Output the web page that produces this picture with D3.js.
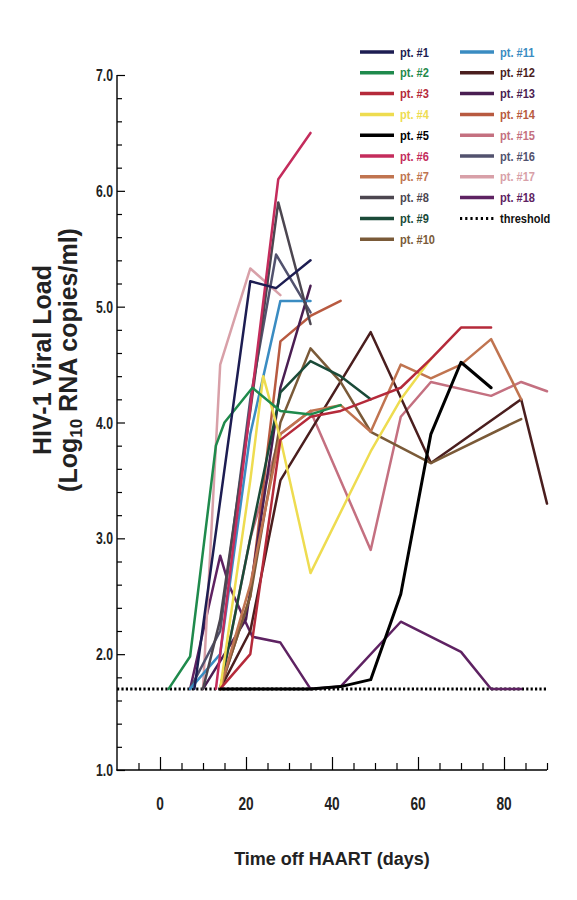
<!DOCTYPE html>
<html>
<head>
<meta charset="utf-8">
<script src="https://cdn.jsdelivr.net/npm/d3@7"></script>
<style>
  html, body { margin: 0; padding: 0; background: #fff; }
  svg { display: block; }
  text { font-family: "Liberation Sans", Arial, sans-serif; font-weight: bold; }
</style>
</head>
<body>
<svg id="chart" width="577" height="900"></svg>
<script>
// Patients, their line colours, and viral load (log10 copies/ml) by day off HAART
const patients = ["pt. #1","pt. #2","pt. #3","pt. #4","pt. #5","pt. #6","pt. #7","pt. #8","pt. #9",
  "pt. #10","pt. #11","pt. #12","pt. #13","pt. #14","pt. #15","pt. #16","pt. #17","pt. #18"];
const colors = ["#1d1d52","#1f8a4c","#b52a3a","#eedc50","#000000","#c42c5c","#c07450","#4c4650","#1a4a38",
  "#7a5a38","#3a8cc2","#4a1e1e","#4a1e52","#b85a40","#c47080","#52526e","#d8a0a8","#5e2262"];
const days = [
  [8,21,27,35],
  [2,7,13,15,21.5,28,35,42],
  [14,21,28,35,42,49,56,63,70,77],
  [14,21,24,28,35,49,56,63],
  [14,21,28,35,42,49,56,63,70,77],
  [13,27.5,35],
  [14,21,28,35,42,49,56,63,70,77,84],
  [10,14,21,27.5,35],
  [14,21,28,35,42,49],
  [14,21,28,35,42,49,63,84],
  [7,14,21,28,35],
  [14,21,28,49,63,84,90],
  [10,20,28,35],
  [14,21,28,35,42],
  [14,21,28,35,49,56,63,77,84,90],
  [7,14,21,27,35],
  [10,14,21,28],
  [7,14,16,20,21.5,28,35,42,56,70,77,84]
];
const loads = [
  [1.7,5.22,5.16,5.4],
  [1.7,1.98,3.8,4.0,4.3,4.1,4.07,4.15],
  [1.7,2.0,3.85,4.05,4.1,4.2,4.3,4.55,4.82,4.82],
  [1.7,3.5,4.4,3.86,2.7,3.75,4.2,4.55],
  [1.7,1.7,1.7,1.7,1.72,1.78,2.52,3.9,4.52,4.3],
  [1.7,6.1,6.5],
  [1.7,2.6,3.9,4.1,4.15,3.92,4.5,4.38,4.5,4.72,4.2],
  [1.7,2.3,4.1,5.9,4.85],
  [1.7,3.0,4.26,4.53,4.4,4.2],
  [1.7,2.5,4.0,4.64,4.35,3.92,3.65,4.03],
  [1.7,2.0,3.9,5.05,5.05],
  [1.7,2.2,3.5,4.78,3.65,4.2,3.3],
  [1.7,2.3,4.3,5.18],
  [1.7,2.5,4.7,4.92,5.05],
  [1.7,3.0,3.9,4.1,2.9,4.05,4.35,4.23,4.35,4.27],
  [1.7,2.2,4.2,5.45,4.95],
  [1.7,4.5,5.33,5.1],
  [1.7,2.85,2.6,2.27,2.15,2.1,1.7,1.72,2.28,2.02,1.7,1.7]
];
const threshold = 1.7;
const xTickLabels = [0, 20, 40, 60, 80];
const yTickLabels = [1, 2, 3, 4, 5, 6, 7];

const svg = d3.select("#chart");
svg.append("rect").attr("width", 577).attr("height", 900).attr("fill", "#fff");

const x = d3.scaleLinear().domain([-10, 90]).range([117, 547]);
const y = d3.scaleLinear().domain([1, 7]).range([770, 75]);

// Data lines
const line = d3.line().x(d => x(d[0])).y(d => y(d[1]));
const plot = svg.append("g");
// threshold first, then patients, black patient drawn above the dotted line
plot.append("path")
  .attr("d", line([[-10, threshold], [90, threshold]]))
  .attr("fill", "none").attr("stroke", "#000").attr("stroke-width", 3)
  .attr("stroke-dasharray", "2.2,2.2");
const order = [17,16,15,14,13,12,11,10,9,8,7,6,5,3,2,1,0,4];
order.forEach(i => {
  plot.append("path")
    .attr("d", line(days[i].map((d, k) => [d, loads[i][k]])))
    .attr("fill", "none")
    .attr("stroke", colors[i])
    .attr("stroke-width", i === 4 ? 3 : 2.5)
    .attr("stroke-linejoin", "round")
    .attr("stroke-linecap", "round");
});

// Axes with inward ticks
const yMinor = d3.range(1, 7.001, 0.2);
const yAxis = d3.axisRight(y).tickValues(yMinor).tickSize(0).tickFormat("");
const gy = svg.append("g").attr("transform", "translate(117,0)").call(yAxis);
gy.select(".domain").remove();
gy.selectAll(".tick line").remove();
gy.selectAll(".tick").append("line")
  .attr("x1", 0).attr("x2", d => Math.abs(d - Math.round(d)) < 1e-6 ? 8 : 5)
  .attr("stroke", "#000").attr("stroke-width", 1.2);

const xMinor = d3.range(-5, 90.001, 5);
const xAxis = d3.axisTop(x).tickValues(xMinor).tickSize(0).tickFormat("");
const gx = svg.append("g").attr("transform", "translate(0,770)").call(xAxis);
gx.select(".domain").remove();
gx.selectAll(".tick line").remove();
gx.selectAll(".tick").append("line")
  .attr("y1", 0).attr("y2", d => d % 20 === 0 ? -13 : -7)
  .attr("stroke", "#000").attr("stroke-width", 1.2);

svg.append("line").attr("x1", 117).attr("x2", 117).attr("y1", 75).attr("y2", 770.6)
  .attr("stroke", "#000").attr("stroke-width", 1.4);
svg.append("line").attr("x1", 116.3).attr("x2", 547).attr("y1", 770).attr("y2", 770)
  .attr("stroke", "#000").attr("stroke-width", 1.4);

// Tick labels (condensed)
svg.append("g").selectAll("text").data(yTickLabels).join("text")
  .attr("transform", d => `translate(113,${y(d) + 6}) scale(0.72,1)`)
  .attr("text-anchor", "end").attr("font-size", 17).attr("fill", "#222")
  .text(d => d.toFixed(1));
svg.append("g").selectAll("text").data(xTickLabels).join("text")
  .attr("transform", d => `translate(${x(d)},${810}) scale(0.72,1)`)
  .attr("text-anchor", "middle").attr("font-size", 19).attr("fill", "#222")
  .text(d => d);

// Axis titles
svg.append("text").attr("x", 332).attr("y", 865).attr("text-anchor", "middle")
  .attr("font-size", 18).attr("fill", "#222").text("Time off HAART (days)");
const yt = svg.append("g").attr("transform", "translate(0,360) rotate(-90)");
yt.append("text").attr("x", 0).attr("y", 51).attr("text-anchor", "middle")
  .attr("font-size", 25).attr("fill", "#222").text("HIV-1 Viral Load");
const t2 = yt.append("text").attr("x", 0).attr("y", 77).attr("text-anchor", "middle")
  .attr("font-size", 25).attr("fill", "#222");
t2.append("tspan").text("(Log");
t2.append("tspan").attr("font-size", 17).attr("dy", 5).text("10");
t2.append("tspan").attr("dy", -5).text(" RNA copies/ml)");

// Legend: two columns
const legendItems = patients.map((p, i) => ({ label: p, color: colors[i], dotted: false }))
  .concat([{ label: "threshold", color: "#000", dotted: true }]);
const lg = svg.append("g");
legendItems.forEach((item, i) => {
  const col = i < 10 ? 0 : 1;
  const row = i < 10 ? i : i - 10;
  const lx = col === 0 ? 360 : 460;
  const ly = 52 + row * 20.8;
  lg.append("line").attr("x1", lx).attr("x2", lx + 34).attr("y1", ly).attr("y2", ly)
    .attr("stroke", item.color).attr("stroke-width", item.dotted ? 3 : 3.5)
    .attr("stroke-dasharray", item.dotted ? "2.2,3" : null);
  lg.append("text").attr("transform", `translate(${lx + 40},${ly + 4.5}) scale(0.85,1)`)
    .attr("font-size", 13).attr("fill", item.dotted ? "#111" : item.color)
    .text(item.label);
});
</script>
</body>
</html>
